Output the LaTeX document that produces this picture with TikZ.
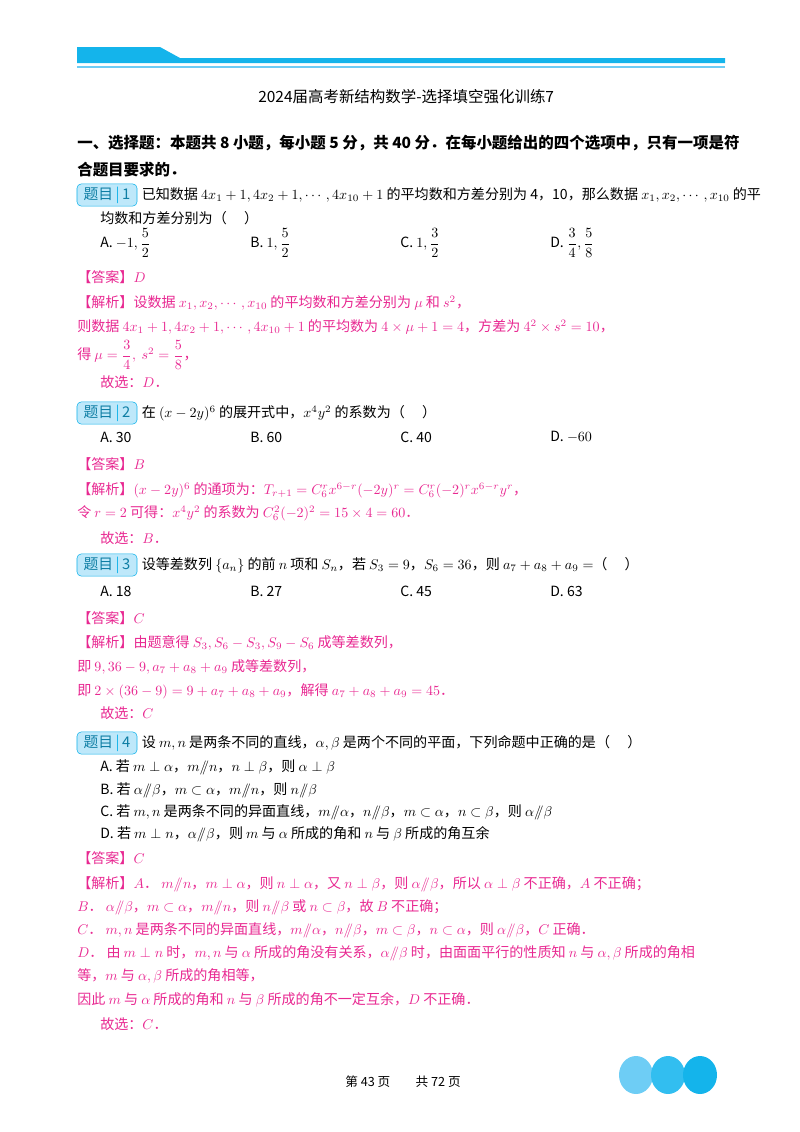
\documentclass[tikz,border=0pt]{standalone}
\usepackage{amsmath,amssymb}
\usepackage{fontspec}
\setmainfont{Noto Sans CJK SC}
\usetikzlibrary{positioning}
\definecolor{sky}{RGB}{20,180,235}
\definecolor{skyl}{RGB}{110,205,245}
\definecolor{skym}{RGB}{50,190,240}
\definecolor{jx}{RGB}{232,40,145}
\newcommand{\pll}{/\!\!/}
\tikzset{
  ln/.style={anchor=west,inner sep=0pt,font=\fontsize{10}{12}\selectfont},
  jl/.style={ln,text=jx},
  tag/.style={draw=sky,fill=skyl!45,rounded corners=3pt,inner sep=2pt,minimum width=1.5cm,minimum height=0.5cm,font=\fontsize{10.5}{12}\selectfont\color{sky!70!black}}
}
\begin{document}
\begin{tikzpicture}[x=0.025cm,y=-0.025cm]
\useasboundingbox (0,0) rectangle (800,1132);
% header band
\fill[sky] (77,47) -- (160,47) -- (180,58) -- (725,58) -- (725,63) -- (77,63) -- cycle;
\fill[skyl] (77,66) rectangle (725,68);
\node[ln,font=\fontsize{11}{13}\selectfont] (title) at (258,97) {2024届高考新结构数学-选择填空强化训练7};
\node[ln,font=\fontsize{11}{13}\selectfont\bfseries] (head1) at (77,143) {一、选择题：本题共 8 小题，每小题 5 分，共 40 分．在每小题给出的四个选项中，只有一项是符};
\node[ln,font=\fontsize{11}{13}\selectfont\bfseries] (head2) at (77,170) {合题目要求的．};
% question 1
\node[tag] (t1) at (107,195) {题目\,\textcolor{sky}{|}\,1};
\node[ln,right=3pt of t1] (q1) {已知数据 $4x_1+1,4x_2+1,\cdots,4x_{10}+1$ 的平均数和方差分别为 4，10，那么数据 $x_1,x_2,\cdots,x_{10}$ 的平};
\node[ln] (q1b) at (100,218) {均数和方差分别为（\quad\ ）};
\node[ln] (q1A) at (100,243) {A.\ $-1,\dfrac52$};
\node[ln] (q1B) at (250,243) {B.\ $1,\dfrac52$};
\node[ln] (q1C) at (400,243) {C.\ $1,\dfrac32$};
\node[ln] (q1D) at (550,243) {D.\ $\dfrac34,\dfrac58$};
\node[jl] (a1) at (77,277) {【答案】$D$};
\node[jl] (j1a) at (77,303) {【解析】设数据 $x_1,x_2,\cdots,x_{10}$ 的平均数和方差分别为 $\mu$ 和 $s^2$，};
\node[jl] (j1b) at (77,327) {则数据 $4x_1+1,4x_2+1,\cdots,4x_{10}+1$ 的平均数为 $4\times\mu+1=4$，方差为 $4^2\times s^2=10$，};
\node[jl] (j1c) at (77,355) {得 $\mu=\dfrac34,\ s^2=\dfrac58$，};
\node[jl] (j1d) at (100,382) {故选：$D$．};
% question 2
\node[tag] (t2) at (107,413) {题目\,\textcolor{sky}{|}\,2};
\node[ln,right=3pt of t2] (q2) {在 $(x-2y)^6$ 的展开式中，$x^4y^2$ 的系数为（\quad\ ）};
\node[ln] (q2A) at (100,437) {A.\ 30};
\node[ln] (q2B) at (250,437) {B.\ 60};
\node[ln] (q2C) at (400,437) {C.\ 40};
\node[ln] (q2D) at (550,437) {D.\ $-60$};
\node[jl] (a2) at (77,464) {【答案】$B$};
\node[jl] (j2a) at (77,490) {【解析】$(x-2y)^6$ 的通项为：$T_{r+1}=C_6^rx^{6-r}(-2y)^r=C_6^r(-2)^rx^{6-r}y^r$，};
\node[jl] (j2b) at (77,513) {令 $r=2$ 可得：$x^4y^2$ 的系数为 $C_6^2(-2)^2=15\times4=60$．};
\node[jl] (j2c) at (100,538) {故选：$B$．};
% question 3
\node[tag] (t3) at (107,565) {题目\,\textcolor{sky}{|}\,3};
\node[ln,right=3pt of t3] (q3) {设等差数列 $\{a_n\}$ 的前 $n$ 项和 $S_n$，若 $S_3=9$，$S_6=36$，则 $a_7+a_8+a_9=$（\quad\ ）};
\node[ln] (q3A) at (100,591) {A.\ 18};
\node[ln] (q3B) at (250,591) {B.\ 27};
\node[ln] (q3C) at (400,591) {C.\ 45};
\node[ln] (q3D) at (550,591) {D.\ 63};
\node[jl] (a3) at (77,618) {【答案】$C$};
\node[jl] (j3a) at (77,643) {【解析】由题意得 $S_3,S_6-S_3,S_9-S_6$ 成等差数列，};
\node[jl] (j3b) at (77,667) {即 $9,36-9,a_7+a_8+a_9$ 成等差数列，};
\node[jl] (j3c) at (77,691) {即 $2\times(36-9)=9+a_7+a_8+a_9$，解得 $a_7+a_8+a_9=45$．};
\node[jl] (j3d) at (100,713) {故选：$C$};
% question 4
\node[tag] (t4) at (107,743) {题目\,\textcolor{sky}{|}\,4};
\node[ln,right=3pt of t4] (q4) {设 $m,n$ 是两条不同的直线，$\alpha,\beta$ 是两个不同的平面，下列命题中正确的是（\quad\ ）};
\node[ln] (q4A) at (100,767) {A.\ 若 $m\perp\alpha$，$m\pll n$，$n\perp\beta$，则 $\alpha\perp\beta$};
\node[ln] (q4B) at (100,790) {B.\ 若 $\alpha\pll\beta$，$m\subset\alpha$，$m\pll n$，则 $n\pll\beta$};
\node[ln] (q4C) at (100,812) {C.\ 若 $m,n$ 是两条不同的异面直线，$m\pll\alpha$，$n\pll\beta$，$m\subset\alpha$，$n\subset\beta$，则 $\alpha\pll\beta$};
\node[ln] (q4D) at (100,834) {D.\ 若 $m\perp n$，$\alpha\pll\beta$，则 $m$ 与 $\alpha$ 所成的角和 $n$ 与 $\beta$ 所成的角互余};
\node[jl] (a4) at (77,858) {【答案】$C$};
\node[jl] (j4a) at (77,884) {【解析】$A$．\ $m\pll n$，$m\perp\alpha$，则 $n\perp\alpha$，又 $n\perp\beta$，则 $\alpha\pll\beta$，所以 $\alpha\perp\beta$ 不正确，$A$ 不正确；};
\node[jl] (j4b) at (77,907) {$B$．\ $\alpha\pll\beta$，$m\subset\alpha$，$m\pll n$，则 $n\pll\beta$ 或 $n\subset\beta$，故 $B$ 不正确；};
\node[jl] (j4c) at (77,930) {$C$．\ $m,n$ 是两条不同的异面直线，$m\pll\alpha$，$n\pll\beta$，$m\subset\beta$，$n\subset\alpha$，则 $\alpha\pll\beta$，$C$ 正确．};
\node[jl] (j4d) at (77,953) {$D$．\ 由 $m\perp n$ 时，$m,n$ 与 $\alpha$ 所成的角没有关系，$\alpha\pll\beta$ 时，由面面平行的性质知 $n$ 与 $\alpha,\beta$ 所成的角相};
\node[jl] (j4e) at (77,976) {等，$m$ 与 $\alpha,\beta$ 所成的角相等，};
\node[jl] (j4f) at (77,1000) {因此 $m$ 与 $\alpha$ 所成的角和 $n$ 与 $\beta$ 所成的角不一定互余，$D$ 不正确．};
\node[jl] (j4g) at (100,1024) {故选：$C$．};
% footer
\node[ln,font=\fontsize{9}{11}\selectfont] (page) at (345,1082) {第 43 页\qquad 共 72 页};
\fill[skyl] (636,1075) ellipse (17 and 19);
\fill[skym] (668,1075) ellipse (17 and 19);
\fill[sky] (700,1075) ellipse (17 and 19);
\end{tikzpicture}
\end{document}
